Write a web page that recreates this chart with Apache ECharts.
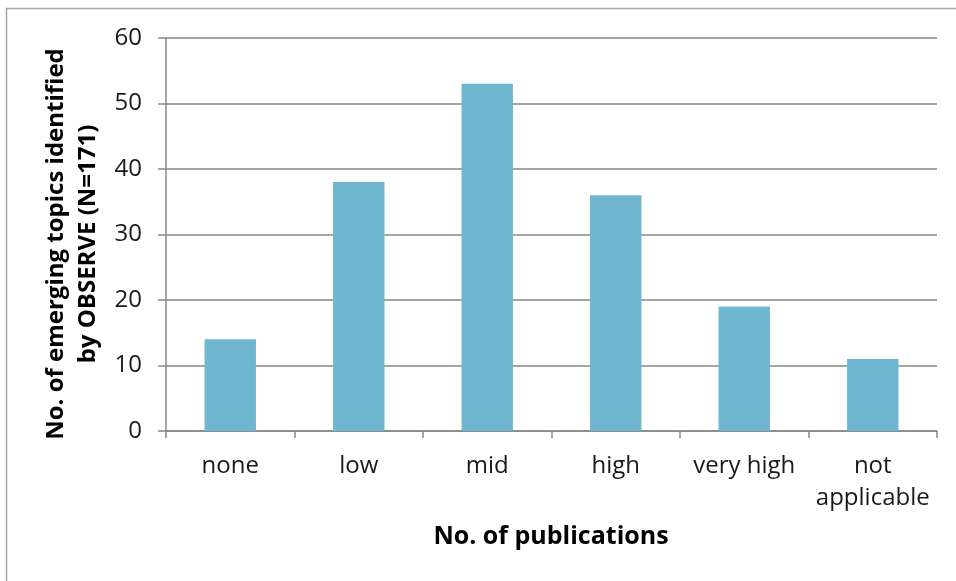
<!DOCTYPE html>
<html>
<head>
<meta charset="utf-8">
<style>
  html, body { margin: 0; padding: 0; background: #ffffff; }
  #chart { width: 956px; height: 581px; }
</style>
<script src="https://cdn.jsdelivr.net/npm/echarts@6/dist/echarts.min.js"></script>
</head>
<body>
<div id="chart"></div>
<script>
// Publication level categories and topic counts
const categories = ['none', 'low', 'mid', 'high', 'very high', 'not\napplicable'];
const topicCounts = [14, 38, 53, 36, 19, 11];
const yTicks = { min: 0, max: 60, interval: 10 };

const axisGrey = '#878787';
const barColor = '#6fb7cf';
const labelFont = '"Open Sans", "Noto Sans", sans-serif';

const chart = echarts.init(document.getElementById('chart'));
chart.setOption({
  animation: false,
  backgroundColor: '#ffffff',
  grid: { left: 166, right: 19, top: 38, bottom: 150 },
  graphic: [
    {
      type: 'polyline',
      shape: { points: [[6.5, 581], [6.5, 8.5], [956, 8.5]] },
      style: { stroke: '#a6a6a6', lineWidth: 1.5, fill: null }
    },
    {
      type: 'text',
      x: 551, y: 537,
      style: {
        text: 'No. of publications',
        font: 'bold 25px ' + labelFont,
        fill: '#000000',
        align: 'center',
        verticalAlign: 'middle'
      }
    },
    {
      type: 'text',
      x: 72, y: 244,
      rotation: Math.PI / 2,
      style: {
        text: 'No. of emerging topics identified\nby OBSERVE (N=171)',
        font: 'bold 24px ' + labelFont,
        fill: '#000000',
        align: 'center',
        verticalAlign: 'middle',
        lineHeight: 32
      }
    }
  ],
  xAxis: {
    type: 'category',
    data: categories,
    boundaryGap: true,
    axisLine: { lineStyle: { color: axisGrey, width: 1.5 } },
    axisTick: { show: true, length: 7, alignWithLabel: false, lineStyle: { color: axisGrey, width: 1.5 } },
    axisLabel: {
      color: '#1a1a1a',
      fontFamily: labelFont,
      fontSize: 24,
      lineHeight: 32,
      margin: 19,
      interval: 0
    },
    splitLine: { show: false }
  },
  yAxis: {
    type: 'value',
    min: yTicks.min,
    max: yTicks.max,
    interval: yTicks.interval,
    axisLine: { show: true, lineStyle: { color: axisGrey, width: 1.5 } },
    axisTick: { show: true, length: 8, lineStyle: { color: axisGrey, width: 1.5 } },
    axisLabel: {
      color: '#1a1a1a',
      fontFamily: labelFont,
      fontSize: 24,
      margin: 24
    },
    splitLine: { show: true, lineStyle: { color: axisGrey, width: 1.5 } }
  },
  series: [{
    type: 'bar',
    data: topicCounts,
    barWidth: '40%',
    itemStyle: { color: barColor }
  }]
});
</script>
</body>
</html>
